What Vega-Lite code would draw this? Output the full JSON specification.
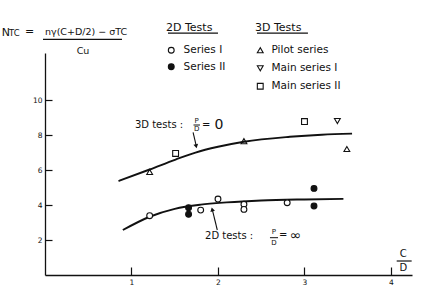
{
  "$schema": "https://vega.github.io/schema/vega-lite/v6.json",
  "width": 367,
  "height": 222,
  "autosize": "none",
  "padding": {"left": 45, "top": 53, "right": 10, "bottom": 23},
  "background": "white",
  "data": {"values": [{}]},
  "config": {
    "view": {"stroke": null},
    "font": "DejaVu Sans",
    "text": {"font": "DejaVu Sans", "color": "#111"},
    "axis": {
      "grid": false,
      "title": null,
      "domainColor": "#111",
      "domainWidth": 1.3,
      "tickColor": "#111",
      "tickWidth": 1.2,
      "labelColor": "#111",
      "labelFont": "DejaVu Sans",
      "labelFontSize": 7.5
    }
  },
  "datasets": {
    "curves": [
      {"cd": 0.85, "ntc": 5.37, "curve": "3D tests"},
      {"cd": 1.21, "ntc": 6.03, "curve": "3D tests"},
      {"cd": 1.51, "ntc": 6.6, "curve": "3D tests"},
      {"cd": 1.74, "ntc": 7.0, "curve": "3D tests"},
      {"cd": 2.0, "ntc": 7.33, "curve": "3D tests"},
      {"cd": 2.3, "ntc": 7.62, "curve": "3D tests"},
      {"cd": 2.83, "ntc": 7.9, "curve": "3D tests"},
      {"cd": 3.2, "ntc": 8.02, "curve": "3D tests"},
      {"cd": 3.55, "ntc": 8.08, "curve": "3D tests"},
      {"cd": 0.9, "ntc": 2.57, "curve": "2D tests"},
      {"cd": 1.21, "ntc": 3.33, "curve": "2D tests"},
      {"cd": 1.5, "ntc": 3.78, "curve": "2D tests"},
      {"cd": 1.8, "ntc": 4.02, "curve": "2D tests"},
      {"cd": 2.1, "ntc": 4.15, "curve": "2D tests"},
      {"cd": 2.5, "ntc": 4.26, "curve": "2D tests"},
      {"cd": 3.0, "ntc": 4.32, "curve": "2D tests"},
      {"cd": 3.45, "ntc": 4.35, "curve": "2D tests"}
    ],
    "tests2d": [
      {"cd": 1.21, "ntc": 3.39, "series": "Series I"},
      {"cd": 1.8, "ntc": 3.71, "series": "Series I"},
      {"cd": 2.0, "ntc": 4.34, "series": "Series I"},
      {"cd": 2.3, "ntc": 4.04, "series": "Series I"},
      {"cd": 2.3, "ntc": 3.75, "series": "Series I"},
      {"cd": 2.8, "ntc": 4.13, "series": "Series I"},
      {"cd": 1.66, "ntc": 3.85, "series": "Series II"},
      {"cd": 1.66, "ntc": 3.47, "series": "Series II"},
      {"cd": 3.11, "ntc": 4.95, "series": "Series II"},
      {"cd": 3.11, "ntc": 3.94, "series": "Series II"}
    ],
    "tests3d": [
      {"cd": 1.21, "ntc": 5.89, "series": "Pilot series"},
      {"cd": 2.3, "ntc": 7.65, "series": "Pilot series"},
      {"cd": 3.49, "ntc": 7.2, "series": "Pilot series"},
      {"cd": 3.38, "ntc": 8.8, "series": "Main series I"},
      {"cd": 1.51, "ntc": 6.95, "series": "Main series II"},
      {"cd": 3.0, "ntc": 8.77, "series": "Main series II"}
    ]
  },
  "layer": [
    {
      "data": {"name": "curves"},
      "mark": {"type": "line", "interpolate": "monotone", "color": "#111", "strokeWidth": 1.9},
      "encoding": {
        "x": {"field": "cd", "type": "quantitative",
              "scale": {"domain": [0, 4.243], "nice": false, "zero": false},
              "axis": {"values": [1, 2, 3, 4], "format": "d", "tickSize": -8, "labelPadding": 11, "title": null}},
        "y": {"field": "ntc", "type": "quantitative",
              "scale": {"domain": [0, 12.69], "nice": false, "zero": false},
              "axis": {"values": [2, 4, 6, 8, 10], "format": "d", "tickSize": -7, "labelPadding": 10, "title": null}},
        "detail": {"field": "curve"}
      }
    },
    {
      "data": {"name": "tests2d"},
      "mark": {"type": "point", "shape": "circle", "filled": true, "stroke": "#111", "strokeWidth": 1.1, "size": 34, "opacity": 1},
      "encoding": {
        "x": {"field": "cd", "type": "quantitative"},
        "y": {"field": "ntc", "type": "quantitative"},
        "fill": {"field": "series", "type": "nominal",
                 "scale": {"domain": ["Series I", "Series II"], "range": ["white", "#111"]},
                 "legend": {"title": "2D Tests", "orient": "none", "legendX": 121, "legendY": -31, "padding": 0,
                            "titleFontSize": 11, "titleFontWeight": "normal", "titleColor": "#111", "titleFont": "DejaVu Sans",
                            "titlePadding": 12, "labelFontSize": 10.5, "labelColor": "#111", "labelFont": "DejaVu Sans",
                            "labelOffset": 7, "rowPadding": 5.5, "symbolSize": 34, "symbolStrokeColor": "#111", "symbolStrokeWidth": 1.1}}
      }
    },
    {
      "data": {"name": "tests3d"},
      "mark": {"type": "point", "filled": false, "color": "#111", "strokeWidth": 1.1, "size": 34, "opacity": 1},
      "encoding": {
        "x": {"field": "cd", "type": "quantitative"},
        "y": {"field": "ntc", "type": "quantitative"},
        "shape": {"field": "series", "type": "nominal",
                  "scale": {"domain": ["Pilot series", "Main series I", "Main series II"], "range": ["triangle-up", "triangle-down", "square"]},
                  "legend": {"title": "3D Tests", "orient": "none", "legendX": 210, "legendY": -31, "padding": 0,
                             "titleFontSize": 11, "titleFontWeight": "normal", "titleColor": "#111", "titleFont": "DejaVu Sans",
                             "titlePadding": 12, "labelFontSize": 10.5, "labelColor": "#111", "labelFont": "DejaVu Sans",
                             "labelOffset": 6, "rowPadding": 7, "symbolSize": 34, "symbolStrokeColor": "#111", "symbolStrokeWidth": 1.1}}
      }
    },
    {"mark": {"type": "text", "text": "N", "fontSize": 11, "align": "left", "baseline": "alphabetic"},
     "encoding": {"x": {"datum": -0.5}, "y": {"datum": 13.66}}},
    {"mark": {"type": "text", "text": "TC", "fontSize": 8.5, "align": "left", "baseline": "alphabetic"},
     "encoding": {"x": {"datum": -0.415}, "y": {"datum": 13.66}}},
    {"mark": {"type": "text", "text": "=", "fontSize": 11, "align": "left", "baseline": "alphabetic"},
     "encoding": {"x": {"datum": -0.23}, "y": {"datum": 13.7}}},
    {"mark": {"type": "text", "text": "nγ(C+D/2) − σTC", "fontSize": 9.5, "align": "left", "baseline": "alphabetic"},
     "encoding": {"x": {"datum": 0.0}, "y": {"datum": 13.72}}},
    {"mark": {"type": "rule", "color": "#111", "strokeWidth": 1.2},
     "encoding": {"x": {"datum": -0.023}, "x2": {"datum": 0.89}, "y": {"datum": 13.47}}},
    {"mark": {"type": "text", "text": "Cu", "fontSize": 9.5, "align": "center", "baseline": "middle"},
     "encoding": {"x": {"datum": 0.44}, "y": {"datum": 12.82}}},
    {"mark": {"type": "rule", "color": "#111", "strokeWidth": 1.2},
     "encoding": {"x": {"datum": 1.422}, "x2": {"datum": 2.0}, "y": {"datum": 13.83}}},
    {"mark": {"type": "rule", "color": "#111", "strokeWidth": 1.2},
     "encoding": {"x": {"datum": 2.451}, "x2": {"datum": 3.04}, "y": {"datum": 13.83}}},
    {"mark": {"type": "text", "text": "3D tests :", "fontSize": 10, "align": "left", "baseline": "middle"},
     "encoding": {"x": {"datum": 1.04}, "y": {"datum": 8.574}}},
    {"mark": {"type": "text", "text": "P", "fontSize": 7, "align": "center", "baseline": "middle"},
     "encoding": {"x": {"datum": 1.754}, "y": {"datum": 8.82}}},
    {"mark": {"type": "rule", "color": "#111", "strokeWidth": 1},
     "encoding": {"x": {"datum": 1.717}, "x2": {"datum": 1.792}, "y": {"datum": 8.574}}},
    {"mark": {"type": "text", "text": "D", "fontSize": 7, "align": "center", "baseline": "middle"},
     "encoding": {"x": {"datum": 1.754}, "y": {"datum": 8.33}}},
    {"mark": {"type": "text", "text": "=", "fontSize": 10, "align": "left", "baseline": "middle"},
     "encoding": {"x": {"datum": 1.815}, "y": {"datum": 8.6}}},
    {"mark": {"type": "text", "text": "0", "fontSize": 14, "align": "center", "baseline": "middle"},
     "encoding": {"x": {"datum": 2.012}, "y": {"datum": 8.6}}},
    {"mark": {"type": "rule", "color": "#111", "strokeWidth": 1.1},
     "encoding": {"x": {"datum": 1.712}, "y": {"datum": 8.15}, "x2": {"datum": 1.748}, "y2": {"datum": 7.4}}},
    {"mark": {"type": "point", "shape": "triangle-down", "filled": true, "color": "#111", "size": 22, "angle": -12, "opacity": 1},
     "encoding": {"x": {"datum": 1.748}, "y": {"datum": 7.36}}},
    {"mark": {"type": "text", "text": "2D tests :", "fontSize": 10, "align": "left", "baseline": "middle"},
     "encoding": {"x": {"datum": 1.85}, "y": {"datum": 2.229}}},
    {"mark": {"type": "text", "text": "P", "fontSize": 7, "align": "center", "baseline": "middle"},
     "encoding": {"x": {"datum": 2.647}, "y": {"datum": 2.441}}},
    {"mark": {"type": "rule", "color": "#111", "strokeWidth": 1},
     "encoding": {"x": {"datum": 2.601}, "x2": {"datum": 2.694}, "y": {"datum": 2.132}}},
    {"mark": {"type": "text", "text": "D", "fontSize": 7, "align": "center", "baseline": "middle"},
     "encoding": {"x": {"datum": 2.647}, "y": {"datum": 1.812}}},
    {"mark": {"type": "text", "text": "=", "fontSize": 10, "align": "left", "baseline": "middle"},
     "encoding": {"x": {"datum": 2.705}, "y": {"datum": 2.258}}},
    {"mark": {"type": "text", "text": "∞", "fontSize": 14, "align": "center", "baseline": "middle"},
     "encoding": {"x": {"datum": 2.896}, "y": {"datum": 2.23}}},
    {"mark": {"type": "rule", "color": "#111", "strokeWidth": 1.1},
     "encoding": {"x": {"datum": 1.992}, "y": {"datum": 2.572}, "x2": {"datum": 1.935}, "y2": {"datum": 3.716}}},
    {"mark": {"type": "point", "shape": "triangle-up", "filled": true, "color": "#111", "size": 22, "angle": -14, "opacity": 1},
     "encoding": {"x": {"datum": 1.933}, "y": {"datum": 3.75}}},
    {"mark": {"type": "text", "text": "C", "fontSize": 10, "align": "center", "baseline": "middle"},
     "encoding": {"x": {"datum": 4.142}, "y": {"datum": 1.183}}},
    {"mark": {"type": "rule", "color": "#111", "strokeWidth": 1.2},
     "encoding": {"x": {"datum": 4.066}, "x2": {"datum": 4.239}, "y": {"datum": 0.8}}},
    {"mark": {"type": "text", "text": "D", "fontSize": 10, "align": "center", "baseline": "middle"},
     "encoding": {"x": {"datum": 4.142}, "y": {"datum": 0.383}}}
  ]
}
